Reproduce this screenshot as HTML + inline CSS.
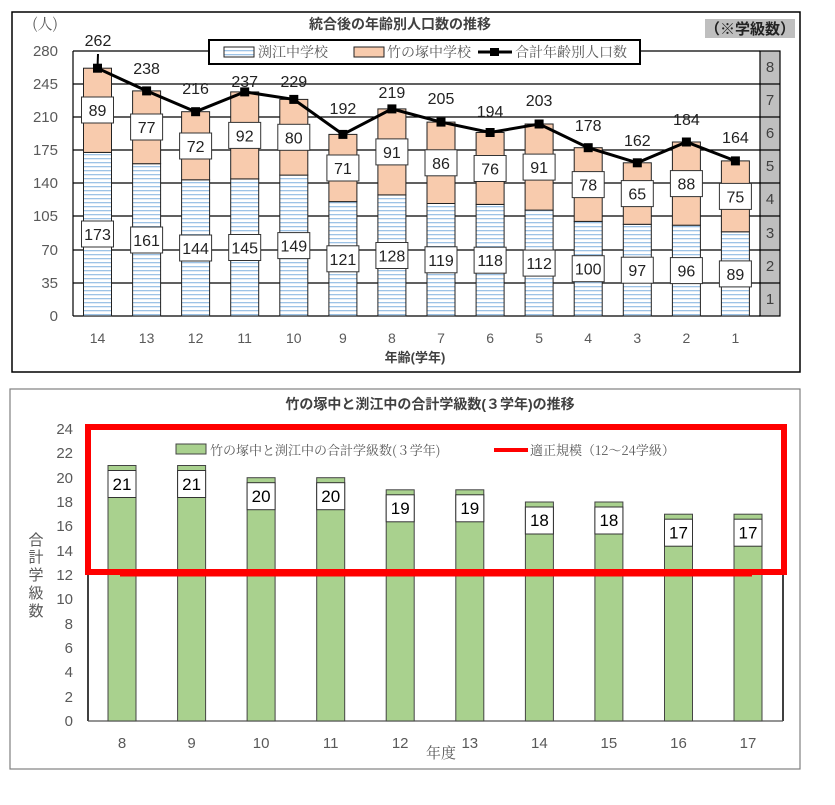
<!DOCTYPE html>
<html><head><meta charset="utf-8"><style>
body{margin:0;background:#fff;}
svg text{font-family:"Liberation Sans","Noto Sans CJK JP",sans-serif;}
.j{font-family:"Noto Serif CJK SC","Liberation Serif",serif;}
</style></head><body>
<svg width="835" height="800" viewBox="0 0 835 800" xmlns="http://www.w3.org/2000/svg">
<defs>
<pattern id="st" width="4" height="4" patternUnits="userSpaceOnUse"><rect width="4" height="4" fill="#fff"/><rect y="2" width="4" height="1.3" fill="#9dc3e6"/></pattern>
</defs>
<!-- TOP CHART -->
<rect x="12" y="12" width="788" height="360" fill="#fff" stroke="#000" stroke-width="1.5"/>
<text x="400" y="29" font-size="14" font-weight="bold" fill="#404040" text-anchor="middle">統合後の年齢別人口数の推移</text>
<rect x="705" y="19" width="90" height="19" fill="#bfbfbf"/>
<text x="750" y="34" font-size="15" font-weight="bold" fill="#222" text-anchor="middle">（※学級数）</text>
<g stroke="#000" stroke-width="1.2">
<line x1="73" y1="51" x2="760" y2="51"/><line x1="73" y1="84" x2="760" y2="84"/><line x1="73" y1="117" x2="760" y2="117"/><line x1="73" y1="150" x2="760" y2="150"/><line x1="73" y1="183" x2="760" y2="183"/><line x1="73" y1="216" x2="760" y2="216"/><line x1="73" y1="250" x2="760" y2="250"/><line x1="73" y1="283" x2="760" y2="283"/><line x1="73" y1="316" x2="760" y2="316"/>
<line x1="73" y1="51" x2="73" y2="316"/>
</g>
<g font-size="15" fill="#595959" text-anchor="end" class="j">
<text x="58" y="29" class="j">(人)</text>
<text x="58" y="56">280</text><text x="58" y="89">245</text><text x="58" y="122">210</text><text x="58" y="155">175</text><text x="58" y="188">140</text><text x="58" y="221">105</text><text x="58" y="255">70</text><text x="58" y="288">35</text><text x="58" y="321">0</text>
</g>
<!-- grey class column -->
<rect x="760" y="51" width="20" height="265" fill="#bfbfbf" stroke="#000" stroke-width="1.2"/>
<g stroke="#000" stroke-width="1.2"><line x1="760" y1="84" x2="780" y2="84"/><line x1="760" y1="117" x2="780" y2="117"/><line x1="760" y1="150" x2="780" y2="150"/><line x1="760" y1="183" x2="780" y2="183"/><line x1="760" y1="216" x2="780" y2="216"/><line x1="760" y1="250" x2="780" y2="250"/><line x1="760" y1="283" x2="780" y2="283"/></g>
<g font-size="15" fill="#404040" text-anchor="middle" class="j">
<text x="770" y="72">8</text><text x="770" y="105">7</text><text x="770" y="138">6</text><text x="770" y="171">5</text><text x="770" y="204">4</text><text x="770" y="238">3</text><text x="770" y="271">2</text><text x="770" y="304">1</text>
</g>
<!-- bars -->
<g stroke="#222" stroke-width="1">
<rect x="83.5" y="152.4" width="28" height="163.6" fill="url(#st)"/><rect x="83.5" y="68.2" width="28" height="84.2" fill="#f8cbad"/>
<rect x="132.6" y="163.7" width="28" height="152.3" fill="url(#st)"/><rect x="132.6" y="90.9" width="28" height="72.8" fill="#f8cbad"/>
<rect x="181.6" y="179.8" width="28" height="136.2" fill="url(#st)"/><rect x="181.6" y="111.7" width="28" height="68.1" fill="#f8cbad"/>
<rect x="230.7" y="178.9" width="28" height="137.1" fill="url(#st)"/><rect x="230.7" y="91.9" width="28" height="87" fill="#f8cbad"/>
<rect x="279.8" y="175.1" width="28" height="140.9" fill="url(#st)"/><rect x="279.8" y="99.4" width="28" height="75.7" fill="#f8cbad"/>
<rect x="328.9" y="201.6" width="28" height="114.4" fill="url(#st)"/><rect x="328.9" y="134.4" width="28" height="67.2" fill="#f8cbad"/>
<rect x="377.9" y="194.9" width="28" height="121.1" fill="url(#st)"/><rect x="377.9" y="108.9" width="28" height="86" fill="#f8cbad"/>
<rect x="427" y="203.5" width="28" height="112.5" fill="url(#st)"/><rect x="427" y="122.1" width="28" height="81.4" fill="#f8cbad"/>
<rect x="476.1" y="204.4" width="28" height="111.6" fill="url(#st)"/><rect x="476.1" y="132.5" width="28" height="71.9" fill="#f8cbad"/>
<rect x="525.1" y="210.1" width="28" height="105.9" fill="url(#st)"/><rect x="525.1" y="124" width="28" height="86.1" fill="#f8cbad"/>
<rect x="574.2" y="221.4" width="28" height="94.6" fill="url(#st)"/><rect x="574.2" y="147.7" width="28" height="73.7" fill="#f8cbad"/>
<rect x="623.3" y="224.3" width="28" height="91.7" fill="url(#st)"/><rect x="623.3" y="162.8" width="28" height="61.5" fill="#f8cbad"/>
<rect x="672.4" y="225.2" width="28" height="90.8" fill="url(#st)"/><rect x="672.4" y="142" width="28" height="83.2" fill="#f8cbad"/>
<rect x="721.4" y="231.8" width="28" height="84.2" fill="url(#st)"/><rect x="721.4" y="160.9" width="28" height="70.9" fill="#f8cbad"/>
</g>
<!-- label boxes -->
<g fill="#fff" stroke="#333" stroke-width="1">
<rect x="81.5" y="221" width="32" height="26"/><rect x="81.5" y="97" width="32" height="26"/>
<rect x="130.6" y="227" width="32" height="26"/><rect x="130.6" y="114" width="32" height="26"/>
<rect x="179.6" y="235" width="32" height="26"/><rect x="179.6" y="133" width="32" height="26"/>
<rect x="228.7" y="234.5" width="32" height="26"/><rect x="228.7" y="122.4" width="32" height="26"/>
<rect x="277.8" y="232.6" width="32" height="26"/><rect x="277.8" y="124.3" width="32" height="26"/>
<rect x="326.9" y="245.8" width="32" height="26"/><rect x="326.9" y="155" width="32" height="26"/>
<rect x="375.9" y="242.5" width="32" height="26"/><rect x="375.9" y="138.9" width="32" height="26"/>
<rect x="425" y="246.8" width="32" height="26"/><rect x="425" y="149.8" width="32" height="26"/>
<rect x="474.1" y="247.2" width="32" height="26"/><rect x="474.1" y="155.5" width="32" height="26"/>
<rect x="523.1" y="250.1" width="32" height="26"/><rect x="523.1" y="154.1" width="32" height="26"/>
<rect x="572.2" y="255.7" width="32" height="26"/><rect x="572.2" y="171.6" width="32" height="26"/>
<rect x="621.3" y="257.2" width="32" height="26"/><rect x="621.3" y="180.6" width="32" height="26"/>
<rect x="670.4" y="257.6" width="32" height="26"/><rect x="670.4" y="170.6" width="32" height="26"/>
<rect x="719.4" y="260.9" width="32" height="26"/><rect x="719.4" y="183.4" width="32" height="26"/>
</g>
<g font-size="16" fill="#222" text-anchor="middle">
<text x="97.5" y="240">173</text><text x="97.5" y="116">89</text>
<text x="146.6" y="246">161</text><text x="146.6" y="133">77</text>
<text x="195.6" y="254">144</text><text x="195.6" y="152">72</text>
<text x="244.7" y="253.5">145</text><text x="244.7" y="141.4">92</text>
<text x="293.8" y="251.6">149</text><text x="293.8" y="143.3">80</text>
<text x="342.9" y="264.8">121</text><text x="342.9" y="174">71</text>
<text x="391.9" y="261.5">128</text><text x="391.9" y="157.9">91</text>
<text x="441" y="265.8">119</text><text x="441" y="168.8">86</text>
<text x="490.1" y="266.2">118</text><text x="490.1" y="174.5">76</text>
<text x="539.1" y="269.1">112</text><text x="539.1" y="173.1">91</text>
<text x="588.2" y="274.7">100</text><text x="588.2" y="190.6">78</text>
<text x="637.3" y="276.2">97</text><text x="637.3" y="199.6">65</text>
<text x="686.4" y="276.6">96</text><text x="686.4" y="189.6">88</text>
<text x="735.4" y="279.9">89</text><text x="735.4" y="202.4">75</text>
</g>
<polyline points="97.5,68.2 146.6,90.9 195.6,111.7 244.7,91.9 293.8,99.4 342.9,134.4 391.9,108.9 441,122.1 490.1,132.5 539.1,124 588.2,147.7 637.3,162.8 686.4,142 735.4,160.9" fill="none" stroke="#000" stroke-width="3"/>
<line x1="97.5" y1="68" x2="98" y2="54" stroke="#000" stroke-width="2"/>
<g fill="#000">
<rect x="93" y="63.7" width="9" height="9"/><rect x="142.1" y="86.4" width="9" height="9"/><rect x="191.1" y="107.2" width="9" height="9"/><rect x="240.2" y="87.4" width="9" height="9"/><rect x="289.3" y="94.9" width="9" height="9"/><rect x="338.4" y="129.9" width="9" height="9"/><rect x="387.4" y="104.4" width="9" height="9"/><rect x="436.5" y="117.6" width="9" height="9"/><rect x="485.6" y="128" width="9" height="9"/><rect x="534.6" y="119.5" width="9" height="9"/><rect x="583.7" y="143.2" width="9" height="9"/><rect x="632.8" y="158.3" width="9" height="9"/><rect x="681.9" y="137.5" width="9" height="9"/><rect x="730.9" y="156.4" width="9" height="9"/>
</g>
<g font-size="16" fill="#222" text-anchor="middle">
<text x="98" y="46">262</text><text x="146.6" y="74">238</text><text x="195.6" y="94">216</text><text x="244.7" y="87">237</text><text x="293.8" y="87">229</text><text x="342.9" y="114">192</text><text x="391.9" y="98">219</text><text x="441" y="104">205</text><text x="490.1" y="117">194</text><text x="539.1" y="106">203</text><text x="588.2" y="131">178</text><text x="637.3" y="146">162</text><text x="686.4" y="125">184</text><text x="735.4" y="143">164</text>
</g>
<!-- legend -->
<rect x="209" y="40" width="431" height="24" fill="#fff" stroke="#000" stroke-width="2"/>
<rect x="224" y="47" width="30" height="10" fill="url(#st)" stroke="#222"/>
<text x="258" y="57" font-size="14" fill="#595959" class="j">渕江中学校</text>
<rect x="354" y="47" width="30" height="10" fill="#f8cbad" stroke="#222"/>
<text x="387" y="57" font-size="14" fill="#595959" class="j">竹の塚中学校</text>
<line x1="478" y1="52" x2="512" y2="52" stroke="#000" stroke-width="3"/><rect x="490" y="48" width="9" height="8" fill="#000"/>
<text x="515" y="57" font-size="14" fill="#595959" class="j">合計年齢別人口数</text>
<g font-size="14" fill="#595959" text-anchor="middle" class="j">
<text x="97.5" y="343">14</text><text x="146.6" y="343">13</text><text x="195.6" y="343">12</text><text x="244.7" y="343">11</text><text x="293.8" y="343">10</text><text x="342.9" y="343">9</text><text x="391.9" y="343">8</text><text x="441" y="343">7</text><text x="490.1" y="343">6</text><text x="539.1" y="343">5</text><text x="588.2" y="343">4</text><text x="637.3" y="343">3</text><text x="686.4" y="343">2</text><text x="735.4" y="343">1</text>
</g>
<text x="415" y="362" font-size="13" font-weight="bold" fill="#404040" text-anchor="middle">年齢(学年)</text>

<!-- BOTTOM CHART -->
<rect x="10" y="389" width="790" height="380" fill="#fff" stroke="#808080" stroke-width="1.2"/>
<text x="430" y="409" font-size="14" font-weight="bold" fill="#404040" text-anchor="middle">竹の塚中と渕江中の合計学級数(３学年)の推移</text>
<g font-size="15" fill="#595959" text-anchor="end">
<text x="73" y="434">24</text><text x="73" y="458">22</text><text x="73" y="483">20</text><text x="73" y="507">18</text><text x="73" y="531">16</text><text x="73" y="556">14</text><text x="73" y="580">12</text><text x="73" y="604">10</text><text x="73" y="629">8</text><text x="73" y="653">6</text><text x="73" y="677">4</text><text x="73" y="702">2</text><text x="73" y="726">0</text>
</g>
<g font-size="15" fill="#595959" text-anchor="middle" class="j">
<text x="36" y="545">合</text><text x="36" y="562">計</text><text x="36" y="580">学</text><text x="36" y="598">級</text><text x="36" y="616">数</text>
</g>
<line x1="88" y1="429" x2="783" y2="429" stroke="#000" stroke-width="1.5"/>
<line x1="88" y1="429" x2="88" y2="721" stroke="#000" stroke-width="1.5"/>
<line x1="783" y1="429" x2="783" y2="721" stroke="#000" stroke-width="1.5"/>
<line x1="88" y1="721" x2="783" y2="721" stroke="#555" stroke-width="1.2"/>
<g fill="#a9d18e" stroke="#444" stroke-width="1">
<rect x="108" y="465.5" width="28" height="255.5"/><rect x="177.6" y="465.5" width="28" height="255.5"/><rect x="247.1" y="477.7" width="28" height="243.3"/><rect x="316.7" y="477.7" width="28" height="243.3"/><rect x="386.2" y="489.8" width="28" height="231.2"/><rect x="455.8" y="489.8" width="28" height="231.2"/><rect x="525.4" y="502" width="28" height="219"/><rect x="594.9" y="502" width="28" height="219"/><rect x="664.5" y="514.2" width="28" height="206.8"/><rect x="734" y="514.2" width="28" height="206.8"/>
</g>
<g fill="#fff" stroke="#333" stroke-width="1">
<rect x="108" y="470.5" width="28" height="27"/><rect x="177.6" y="470.5" width="28" height="27"/><rect x="247.1" y="482.7" width="28" height="27"/><rect x="316.7" y="482.7" width="28" height="27"/><rect x="386.2" y="494.8" width="28" height="27"/><rect x="455.8" y="494.8" width="28" height="27"/><rect x="525.4" y="507" width="28" height="27"/><rect x="594.9" y="507" width="28" height="27"/><rect x="664.5" y="519.2" width="28" height="27"/><rect x="734" y="519.2" width="28" height="27"/>
</g>
<g font-size="17" fill="#000" text-anchor="middle">
<text x="122" y="490">21</text><text x="191.6" y="490">21</text><text x="261.1" y="502">20</text><text x="330.7" y="502">20</text><text x="400.2" y="514">19</text><text x="469.8" y="514">19</text><text x="539.4" y="526">18</text><text x="608.9" y="526">18</text><text x="678.5" y="538.5">17</text><text x="748" y="538.5">17</text>
</g>
<rect x="88" y="427" width="696" height="145" fill="none" stroke="#ff0000" stroke-width="6"/>
<line x1="120" y1="575" x2="752" y2="575" stroke="#ff0000" stroke-width="3"/>
<rect x="176" y="444" width="30" height="10" fill="#a9d18e" stroke="#444"/>
<text x="210" y="455" font-size="13" fill="#595959" class="j">竹の塚中と渕江中の合計学級数(３学年)</text>
<line x1="494" y1="450" x2="528" y2="450" stroke="#ff0000" stroke-width="4"/>
<text x="530" y="455" font-size="13" fill="#595959" class="j">適正規模（12～24学級）</text>
<g font-size="15" fill="#595959" text-anchor="middle">
<text x="122" y="748">8</text><text x="191.6" y="748">9</text><text x="261.1" y="748">10</text><text x="330.7" y="748">11</text><text x="400.2" y="748">12</text><text x="469.8" y="748">13</text><text x="539.4" y="748">14</text><text x="608.9" y="748">15</text><text x="678.5" y="748">16</text><text x="748" y="748">17</text>
</g>
<text x="441" y="758" font-size="15" fill="#595959" text-anchor="middle" class="j">年度</text>
</svg>
</body></html>
